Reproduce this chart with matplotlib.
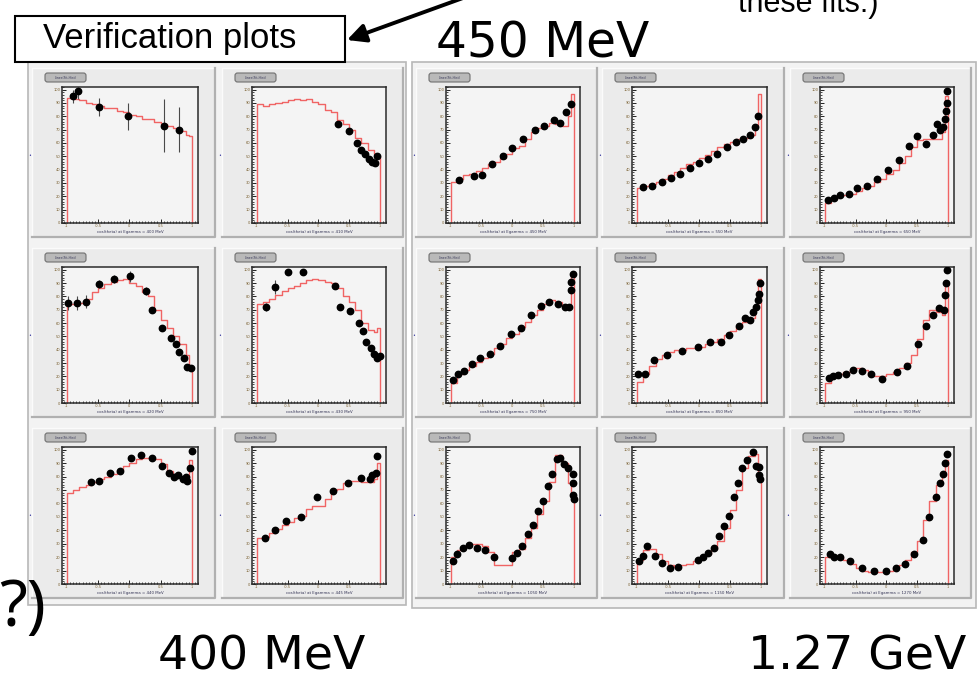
import matplotlib
matplotlib.use('Agg')
import matplotlib.pyplot as plt
from matplotlib.patches import Rectangle, FancyBboxPatch
from matplotlib.ticker import MultipleLocator

W, H = 977, 681

# left edges of the fit histogram bins (last bin runs to cos = 1)
fit_edges = [-1.0, -0.9, -0.8, -0.7, -0.6, -0.5, -0.4, -0.3, -0.2, -0.1,
             0.0, 0.1, 0.2, 0.3, 0.4, 0.5, 0.6, 0.7, 0.8, 0.9, 0.95]
small_err = 0.02

# ---- 400 MeV block (2 columns x 3 rows) ----
p1_x = [-0.90, -0.82, -0.49, -0.02, 0.55, 0.80]
p1_y = [0.95, 0.99, 0.87, 0.80, 0.73, 0.70]
p1_err = [0.05, 0.06, 0.07, 0.10, 0.20, 0.17]
p1_fit = [0.94, 0.93, 0.92, 0.90, 0.89, 0.88, 0.86, 0.86, 0.84, 0.83, 0.81,
          0.80, 0.78, 0.78, 0.76, 0.74, 0.73, 0.71, 0.69, 0.66, 0.65]

p2_x = [0.32, 0.50, 0.63, 0.69, 0.76, 0.82, 0.88, 0.92, 0.95]
p2_y = [0.74, 0.69, 0.60, 0.55, 0.52, 0.48, 0.46, 0.45, 0.50]
p2_fit = [0.89, 0.88, 0.89, 0.90, 0.91, 0.92, 0.93, 0.92, 0.93, 0.91, 0.89,
          0.85, 0.83, 0.77, 0.74, 0.70, 0.64, 0.60, 0.55, 0.52, 0.50]

p6_x = [-0.98, -0.84, -0.69, -0.49, -0.25, 0.01, 0.27, 0.37, 0.53, 0.67,
        0.74, 0.80, 0.87, 0.93, 0.98]
p6_y = [0.75, 0.75, 0.76, 0.89, 0.93, 0.95, 0.84, 0.70, 0.56, 0.49,
        0.44, 0.38, 0.34, 0.27, 0.26]
p6_err = [0.05, 0.05, 0.05, 0.03, 0.03, 0.04, 0.03, 0.02, 0.02, 0.02,
          0.02, 0.02, 0.02, 0.02, 0.02]
p6_fit = [0.74, 0.74, 0.75, 0.78, 0.83, 0.86, 0.89, 0.91, 0.92, 0.93, 0.90,
          0.88, 0.83, 0.80, 0.70, 0.62, 0.56, 0.50, 0.44, 0.36, 0.28]

p7_x = [-0.86, -0.70, -0.49, -0.25, 0.27, 0.35, 0.51, 0.66, 0.72, 0.77,
        0.85, 0.91, 0.96, 1.00]
p7_y = [0.72, 0.87, 0.98, 0.98, 0.88, 0.72, 0.69, 0.60, 0.54, 0.46,
        0.41, 0.37, 0.34, 0.35]
p7_err = [0.03, 0.05, 0.02, 0.02, 0.02, 0.02, 0.02, 0.02, 0.02, 0.02,
          0.02, 0.02, 0.02, 0.02]
p7_fit = [0.74, 0.76, 0.78, 0.81, 0.84, 0.86, 0.88, 0.90, 0.92, 0.93, 0.92,
          0.91, 0.90, 0.86, 0.80, 0.76, 0.70, 0.60, 0.55, 0.53, 0.56]

p11_x = [-0.61, -0.48, -0.31, -0.15, 0.02, 0.19, 0.36, 0.52, 0.63, 0.72,
         0.78, 0.86, 0.90, 0.93, 0.97, 1.00]
p11_y = [0.76, 0.77, 0.83, 0.84, 0.94, 0.96, 0.94, 0.88, 0.83, 0.80,
         0.81, 0.78, 0.80, 0.77, 0.86, 0.99]
p11_fit = [0.68, 0.70, 0.72, 0.74, 0.76, 0.78, 0.80, 0.82, 0.85, 0.88, 0.90,
           0.93, 0.94, 0.94, 0.93, 0.89, 0.84, 0.80, 0.79, 0.80, 0.92]

p12_x = [-0.87, -0.71, -0.52, -0.28, -0.02, 0.23, 0.48, 0.69, 0.84, 0.88,
         0.93, 0.95]
p12_y = [0.34, 0.40, 0.47, 0.50, 0.65, 0.69, 0.75, 0.79, 0.78, 0.81,
         0.83, 0.95]
p12_fit = [0.34, 0.35, 0.38, 0.41, 0.44, 0.46, 0.49, 0.51, 0.56, 0.58, 0.58,
           0.63, 0.70, 0.71, 0.75, 0.77, 0.77, 0.76, 0.76, 0.78, 0.90]

# ---- 450 MeV .. 1.27 GeV block (3 columns x 3 rows) ----
p3_x = [-0.87, -0.63, -0.49, -0.33, -0.16, 0.00, 0.18, 0.36, 0.52, 0.67,
        0.78, 0.88, 0.95]
p3_y = [0.32, 0.35, 0.36, 0.44, 0.50, 0.56, 0.63, 0.70, 0.73, 0.77,
        0.75, 0.83, 0.89]
p3_fit = [0.31, 0.33, 0.36, 0.37, 0.39, 0.41, 0.44, 0.46, 0.49, 0.52, 0.56,
          0.58, 0.63, 0.68, 0.71, 0.73, 0.75, 0.74, 0.73, 0.80, 0.97]

p4_x = [-0.90, -0.75, -0.60, -0.45, -0.30, -0.15, 0.00, 0.15, 0.30, 0.45,
        0.60, 0.72, 0.82, 0.90, 0.95]
p4_y = [0.27, 0.28, 0.31, 0.34, 0.37, 0.41, 0.45, 0.48, 0.52, 0.57,
        0.61, 0.63, 0.66, 0.72, 0.80]
p4_fit = [0.26, 0.28, 0.29, 0.31, 0.33, 0.36, 0.38, 0.41, 0.44, 0.46, 0.49,
          0.51, 0.54, 0.57, 0.59, 0.61, 0.63, 0.64, 0.66, 0.72, 0.97]

p5_x = [-0.95, -0.86, -0.75, -0.61, -0.47, -0.31, -0.15, 0.03, 0.20, 0.37,
        0.50, 0.64, 0.76, 0.83, 0.88, 0.92, 0.95, 0.97, 0.98, 0.99]
p5_y = [0.17, 0.19, 0.21, 0.22, 0.26, 0.28, 0.33, 0.40, 0.47, 0.58,
        0.65, 0.59, 0.66, 0.74, 0.70, 0.72, 0.78, 0.84, 0.90, 0.99]
p5_fit = [0.15, 0.18, 0.20, 0.21, 0.22, 0.24, 0.26, 0.28, 0.31, 0.33, 0.37,
          0.40, 0.45, 0.50, 0.57, 0.62, 0.63, 0.63, 0.63, 0.68, 0.95]

p8_x = [-0.97, -0.88, -0.78, -0.65, -0.52, -0.37, -0.20, -0.02, 0.14, 0.31,
        0.46, 0.60, 0.75, 0.86, 0.92, 0.95, 0.96, 0.98]
p8_y = [0.17, 0.22, 0.24, 0.29, 0.34, 0.37, 0.43, 0.52, 0.56, 0.66,
        0.73, 0.76, 0.74, 0.72, 0.72, 0.85, 0.91, 0.97]
p8_fit = [0.15, 0.22, 0.25, 0.28, 0.31, 0.34, 0.37, 0.41, 0.44, 0.49, 0.52,
          0.57, 0.61, 0.66, 0.70, 0.74, 0.77, 0.76, 0.73, 0.72, 0.97]

p9_x = [-0.99, -0.87, -0.72, -0.52, -0.27, -0.02, 0.18, 0.35, 0.49, 0.64,
        0.75, 0.82, 0.88, 0.92, 0.95, 0.97, 0.98]
p9_y = [0.22, 0.22, 0.32, 0.36, 0.39, 0.42, 0.46, 0.46, 0.51, 0.58,
        0.64, 0.62, 0.68, 0.72, 0.77, 0.82, 0.90]
p9_fit = [0.16, 0.22, 0.28, 0.33, 0.36, 0.38, 0.40, 0.40, 0.41, 0.41, 0.42,
          0.44, 0.46, 0.48, 0.51, 0.54, 0.57, 0.61, 0.64, 0.72, 0.93]

p10_x = [-0.94, -0.87, -0.79, -0.66, -0.54, -0.40, -0.25, -0.07, 0.17, 0.34,
         0.51, 0.65, 0.76, 0.86, 0.93, 0.96, 0.97, 0.99]
p10_y = [0.19, 0.20, 0.21, 0.22, 0.25, 0.24, 0.22, 0.18, 0.23, 0.28,
         0.44, 0.58, 0.66, 0.71, 0.70, 0.81, 0.90, 1.00]
p10_fit = [0.15, 0.20, 0.22, 0.23, 0.25, 0.26, 0.25, 0.21, 0.20, 0.20, 0.22,
           0.23, 0.26, 0.30, 0.36, 0.48, 0.62, 0.70, 0.68, 0.66, 0.90]

p13_x = [-0.96, -0.90, -0.81, -0.70, -0.58, -0.45, -0.30, -0.01, 0.08, 0.16,
         0.25, 0.34, 0.42, 0.50, 0.58, 0.64, 0.72, 0.78, 0.84, 0.91,
         0.98, 0.98, 0.99, 1.00]
p13_y = [0.17, 0.22, 0.27, 0.29, 0.27, 0.25, 0.20, 0.19, 0.23, 0.28,
         0.37, 0.44, 0.54, 0.62, 0.73, 0.82, 0.93, 0.94, 0.89, 0.86,
         0.82, 0.75, 0.66, 0.63]
p13_fit = [0.20, 0.25, 0.28, 0.30, 0.30, 0.28, 0.24, 0.14, 0.14, 0.14, 0.24,
           0.26, 0.34, 0.42, 0.52, 0.62, 0.76, 0.96, 0.90, 0.75, 0.66]

p14_x = [-0.97, -0.91, -0.83, -0.71, -0.60, -0.47, -0.34, -0.02, 0.06, 0.15,
         0.25, 0.32, 0.41, 0.49, 0.56, 0.63, 0.69, 0.78, 0.87, 0.93,
         0.97, 0.97, 0.98]
p14_y = [0.17, 0.21, 0.28, 0.21, 0.16, 0.12, 0.13, 0.18, 0.20, 0.23,
         0.27, 0.36, 0.43, 0.51, 0.65, 0.75, 0.86, 0.92, 0.98, 0.88,
         0.87, 0.81, 0.78]
p14_fit = [0.18, 0.25, 0.26, 0.22, 0.17, 0.14, 0.13, 0.14, 0.15, 0.17, 0.19,
           0.22, 0.26, 0.32, 0.42, 0.55, 0.70, 0.86, 0.95, 0.97, 0.80]

p15_x = [-0.92, -0.85, -0.75, -0.60, -0.40, -0.20, 0.00, 0.15, 0.30, 0.45,
         0.60, 0.70, 0.80, 0.87, 0.92, 0.96, 0.98]
p15_y = [0.22, 0.20, 0.20, 0.17, 0.12, 0.10, 0.10, 0.12, 0.15, 0.22,
         0.33, 0.50, 0.65, 0.75, 0.82, 0.90, 0.97]
p15_fit = [0.20, 0.21, 0.20, 0.18, 0.15, 0.12, 0.10, 0.09, 0.09, 0.09, 0.10,
           0.12, 0.14, 0.18, 0.24, 0.32, 0.48, 0.62, 0.74, 0.82, 0.92]

panel_energy = ['400', '410', '420', '430', '440', '445',
                '450', '550', '650', '750', '850', '950', '1050', '1150', '1270']


def box(l, t, r, b):
    return [l / W, 1 - b / H, (r - l) / W, (b - t) / H]


fig = plt.figure(figsize=(W / 100, H / 100), dpi=100)
bg = fig.add_axes([0, 0, 1, 1])
bg.set_xlim(0, W)
bg.set_ylim(H, 0)
bg.axis('off')

# group frames
bg.add_patch(Rectangle((28, 62), 378, 543, fc='#f3f3f3', ec='#b8b8b8', lw=1.2))
bg.add_patch(Rectangle((412, 62), 564, 546, fc='#f3f3f3', ec='#b8b8b8', lw=1.2))

left_cols = [(32, 215), (222, 403)]
right_cols = [(416, 597), (602, 784), (790, 971)]
rows = [(68, 237), (248, 417), (428, 598)]

panels = [
    (left_cols[0], rows[0], p1_x, p1_y, p1_err, p1_fit),
    (left_cols[1], rows[0], p2_x, p2_y, None, p2_fit),
    (left_cols[0], rows[1], p6_x, p6_y, p6_err, p6_fit),
    (left_cols[1], rows[1], p7_x, p7_y, p7_err, p7_fit),
    (left_cols[0], rows[2], p11_x, p11_y, None, p11_fit),
    (left_cols[1], rows[2], p12_x, p12_y, None, p12_fit),
    (right_cols[0], rows[0], p3_x, p3_y, None, p3_fit),
    (right_cols[1], rows[0], p4_x, p4_y, None, p4_fit),
    (right_cols[2], rows[0], p5_x, p5_y, None, p5_fit),
    (right_cols[0], rows[1], p8_x, p8_y, None, p8_fit),
    (right_cols[1], rows[1], p9_x, p9_y, None, p9_fit),
    (right_cols[2], rows[1], p10_x, p10_y, None, p10_fit),
    (right_cols[0], rows[2], p13_x, p13_y, None, p13_fit),
    (right_cols[1], rows[2], p14_x, p14_y, None, p14_fit),
    (right_cols[2], rows[2], p15_x, p15_y, None, p15_fit),
]

for k, ((l, r), (t, b), x, y, err, fit) in enumerate(panels):
    # ROOT canvas pad with bevel
    bg.add_patch(Rectangle((l, t), r - l, b - t, fc='#ebebeb', ec='none'))
    bg.plot([l, l, r], [b, t, t], color='#fbfbfb', lw=1)
    bg.plot([l, r, r], [b, b, t], color='#b0b0b0', lw=1.6)
    bg.add_patch(FancyBboxPatch((l + 13, t + 5), 41, 9,
                                boxstyle='round,pad=0,rounding_size=2.5',
                                fc='#b9b9b9', ec='#707070', lw=0.8))
    bg.text(l + 33.5, t + 9.6, 'Lines(Fit,Hist)', fontsize=2.3,
            ha='center', va='center', color='#3a3a5a')

    ax = fig.add_axes(box(l + 30, t + 19, r - 17, b - 14))
    ax.set_facecolor('#f4f4f4')

    # fitted histogram as a closed staircase
    sx, sy = [-1.0], [0.0]
    for i, e in enumerate(fit_edges):
        nxt = fit_edges[i + 1] if i + 1 < len(fit_edges) else 1.0
        sx += [e, nxt]
        sy += [fit[i], fit[i]]
    sx.append(1.0)
    sy.append(0.0)
    ax.plot(sx, sy, color='#f06464', lw=1.0, zorder=2)

    yerr = err if err is not None else [small_err] * len(x)
    ax.errorbar(x, y, yerr=yerr, fmt='o', color='black', ms=4.6,
                ecolor='#4a4a4a', elinewidth=0.8, capsize=0, zorder=3)

    ax.set_xlim(-1.08, 1.1)
    ax.set_ylim(0, 1.02)
    ax.set_xticks([-1, -0.5, 0, 0.5, 1])
    ax.set_xticklabels(['-1', '-0.5', '0', '0.5', '1'])
    ax.set_yticks([0, 0.1, 0.2, 0.3, 0.4, 0.5, 0.6, 0.7, 0.8, 0.9, 1.0])
    ax.set_yticklabels(['0', '10', '20', '30', '40', '50', '60', '70', '80', '90', '100'])
    ax.xaxis.set_minor_locator(MultipleLocator(0.05))
    ax.yaxis.set_minor_locator(MultipleLocator(0.02))
    ax.tick_params(which='both', direction='in', top=False, right=False)
    ax.tick_params(which='major', length=3, width=0.6, labelsize=2.6, pad=1,
                   labelcolor='#7a6030')
    ax.tick_params(which='minor', length=1.5, width=0.5)
    for s in ax.spines.values():
        s.set_linewidth(1.1)
        s.set_color('#2a2a2a')
    ax.set_xlabel('cos(theta) at Egamma = %s MeV' % panel_energy[k],
                  fontsize=2.8, labelpad=1, color='#333355')
    ax.text(-0.24, 0.5, '•', transform=ax.transAxes, fontsize=3.5,
            color='#3a3aa0', ha='center', va='center')

# slide annotations
bg.add_patch(Rectangle((15, 16), 330, 46, fc='white', ec='black', lw=1.5, zorder=5))
bg.text(170, 48, 'Verification plots', fontsize=25, family='Liberation Sans',
        ha='center', va='baseline', zorder=6)
bg.annotate('', xy=(347, 40), xytext=(474, -6), annotation_clip=False,
            arrowprops=dict(arrowstyle='-|>', lw=2.8, color='black',
                            mutation_scale=28, shrinkA=0, shrinkB=0), zorder=6)
bg.text(808, 12, 'these fits.)', fontsize=22, family='Liberation Sans',
        ha='center', va='baseline')
bg.text(543, 57, '450 MeV', fontsize=35, family='DejaVu Sans',
        ha='center', va='baseline')
bg.text(262, 669, '400 MeV', fontsize=34, family='DejaVu Sans',
        ha='center', va='baseline')
bg.text(857, 669, '1.27 GeV', fontsize=34, family='DejaVu Sans',
        ha='center', va='baseline')
bg.text(46, 626, '?)', fontsize=46, family='Noto Sans',
        ha='right', va='baseline')

fig.savefig('out.png', dpi=100)
